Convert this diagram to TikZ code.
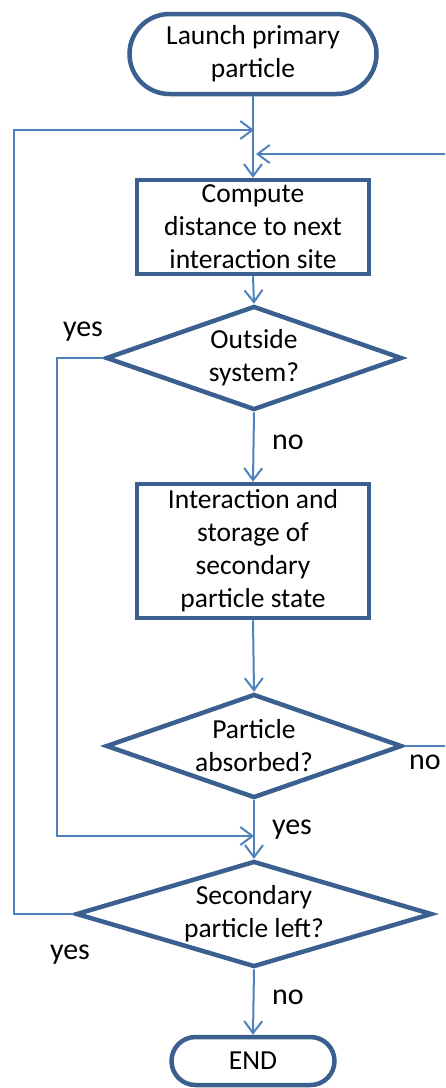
\documentclass[tikz,border=0pt]{standalone}
\usepackage{fontspec}
\setmainfont{Carlito}
\usetikzlibrary{arrows.meta,shapes.geometric}
\definecolor{boxblue}{HTML}{3B5F8F}
\definecolor{linkblue}{HTML}{4F81BD}
\tikzset{
    terminal/.style={draw=boxblue,line width=4.5pt,rounded corners=40pt,
        align=center,inner sep=0pt},
    procbox/.style={draw=boxblue,line width=4.5pt,align=center,inner sep=0pt},
    decision/.style={diamond,draw=boxblue,line width=4.5pt,align=center,
        inner sep=0pt},
    link/.style={draw=linkblue,line width=2pt,
        -{Straight Barb[length=12pt,width=18pt]}},
    answer/.style={inner sep=0pt,font=\fontsize{30}{36}\selectfont}
}
\begin{document}
\begin{tikzpicture}[x=1pt,y=-1pt,font=\fontsize{27.5}{33}\selectfont]
    \useasboundingbox (0,0) rectangle (445,1088);
    \clip (0,0) rectangle (445,1088);

    % Knoten des Ablaufs.
    \node[terminal,minimum width=247pt,minimum height=80pt] (launch)
        at (253,54) {Launch primary\\particle};
    \node[procbox,minimum width=232pt,minimum height=94pt] (dist)
        at (253,227) {Compute\\distance to next\\interaction site};
    \node[decision,minimum width=296pt,minimum height=104pt,aspect=2.8]
        (outside) at (254,358) {Outside\\system?};
    \node[procbox,minimum width=232pt,minimum height=134pt] (inter)
        at (253,551) {Interaction and\\storage of\\secondary\\particle state};
    \node[decision,minimum width=296pt,minimum height=104pt,aspect=2.8]
        (absorbed) at (254,746) {Particle\\absorbed?};
    \node[decision,minimum width=356pt,minimum height=106pt,aspect=3.3]
        (secleft) at (254,914) {Secondary\\particle left?};
    \node[terminal,rounded corners=24pt,minimum width=163pt,
        minimum height=48pt] (finish) at (253,1061) {END};

    % Einmündungen in die Hauptlinie.
    \coordinate (jtop) at (254,130);
    \coordinate (jright) at (256,154);
    \coordinate (jlow) at (254,836);

    % Verbindungen.
    \draw[link] (launch.south) -- (dist.north);
    \draw[link] (dist.south) -- (outside.north);
    \draw[link] (outside.south) -- (inter.north);
    \draw[link] (inter.south) -- (absorbed.north);
    \draw[link] (absorbed.south) -- (secleft.north);
    \draw[link] (secleft.south) -- (finish.north);

    \draw[link] (outside.west) -- (57,358) |- (jlow);
    \draw[link] (secleft.west) -- (14,914) |- (jtop);
    \draw[link] (absorbed.east) -- (448,746) |- (jright);

    % Antworten.
    \node[answer] (yesout) at (83,332) {yes};
    \node[answer] (noout) at (288,442) {no};
    \node[answer] (noabs) at (425,762) {no};
    \node[answer] (yesabs) at (292,830) {yes};
    \node[answer] (yessec) at (70,955) {yes};
    \node[answer] (nosec) at (288,997) {no};
\end{tikzpicture}
\end{document}
